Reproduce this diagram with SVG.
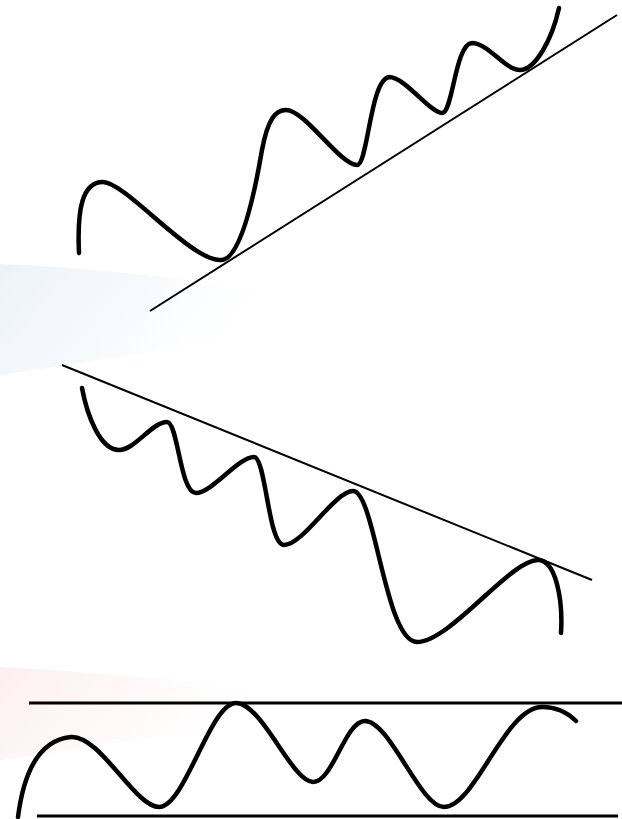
<svg xmlns="http://www.w3.org/2000/svg" width="622" height="819" viewBox="0 0 622 819">
<defs>
<linearGradient id="gBlue" x1="0" y1="0" x2="1" y2="0.3">
<stop offset="0" stop-color="#ebf3fa"/>
<stop offset="0.5" stop-color="#f2f8fc" stop-opacity="0.7"/>
<stop offset="1" stop-color="#ffffff" stop-opacity="0"/>
</linearGradient>
<linearGradient id="gPink" x1="0" y1="0" x2="1" y2="0.3">
<stop offset="0" stop-color="#fdf0ee"/>
<stop offset="0.5" stop-color="#fef6f4" stop-opacity="0.7"/>
<stop offset="1" stop-color="#ffffff" stop-opacity="0"/>
</linearGradient>
<style>
.wave{fill:none;stroke:#000;stroke-width:4.5;stroke-linecap:round;stroke-linejoin:round}
.trend{fill:none;stroke:#000;stroke-width:2}
.band{fill:none;stroke:#000;stroke-width:3}
</style>
</defs>
<rect width="622" height="819" fill="#ffffff"/>
<path d="M0,264 C100,268 200,280 300,296 L300,330 C200,345 100,360 0,375 Z" fill="url(#gBlue)"/>
<path d="M0,667 C100,672 200,682 290,694 L290,720 C200,730 100,745 0,760 Z" fill="url(#gPink)"/>
<g id="uptrend">
<path class="wave" d="M79,253 C77,210 82,182 103,182 C125,182 190,260 220,260 C236,262 250,220 262,150 C268,118 276,110 286,110 C305,110 340,165 357,165 C368,165 370,80 389,77 C405,77 430,113 442,113 C453,113 455,44 472,43 C488,43 505,70 520,70 C535,70 552,40 559,8"/>
<line class="trend" x1="150" y1="311" x2="617" y2="15"/>
</g>
<g id="downtrend">
<path class="wave" d="M82,388 C87,415 100,450 119,450 C135,450 152,422 167,422 C178,422 180,493 196,493 C212,493 238,457 254,457 C266,457 268,545 284,545 C303,545 335,491 353,491 C375,491 385,642 417,642 C450,642 510,560 538,560 C556,560 563,600 561,633"/>
<line class="trend" x1="62" y1="365" x2="592" y2="580"/>
</g>
<g id="range">
<path class="wave" d="M18,817 C24,770 40,740 71,737 C100,735 135,807 159,807 C185,807 210,703 236,703 C262,703 292,782 313,782 C333,782 345,721 365,721 C390,721 420,807 444,807 C475,807 505,707 542,707 C556,707 568,713 576,721"/>
<line class="band" x1="29" y1="703" x2="622" y2="703"/>
<line class="band" x1="37" y1="816" x2="618" y2="816"/>
</g>
</svg>
